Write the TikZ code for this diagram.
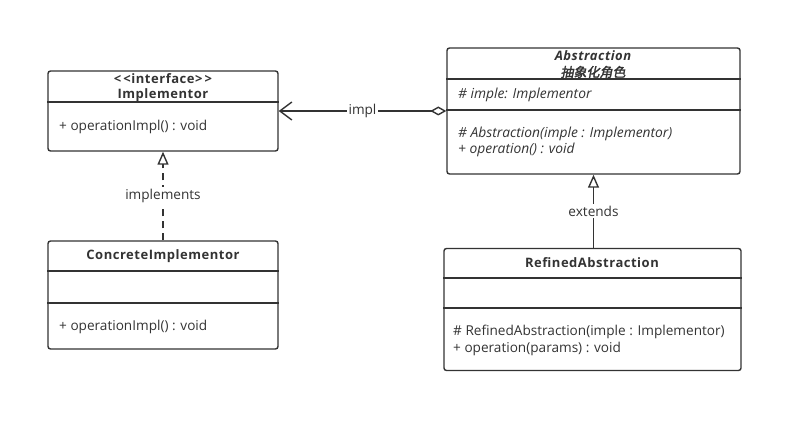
\documentclass[tikz,border=0pt]{standalone}
\usepackage{fontspec}
\setmainfont{Open Sans}
\newfontfamily\cjk[FakeSlant=0.2,FakeBold=2]{Noto Sans CJK SC}
\usepackage{tikz}
\usetikzlibrary{arrows.meta,positioning}
\definecolor{umlgray}{HTML}{333333}

\begin{document}
\begin{tikzpicture}[
		x=1pt,y=-1pt,
		every node/.append style={text=umlgray,font=\fontsize{13.6}{15}\selectfont,inner sep=1pt},
		classbox/.style={draw=umlgray,line width=1.4pt,rounded corners=2.5pt,inner sep=0pt},
		divider/.style={draw=umlgray,line width=1.4pt},
		member/.style={anchor=west},
		title/.style={font=\fontsize{13}{15}\selectfont\bfseries\addfontfeature{LetterSpace=4}},
		lbl/.style={fill=white,inner sep=2pt}
	]
	\useasboundingbox (0,0) rectangle (803,433);
	\node[classbox,minimum width=230pt,minimum height=80pt] (impl) at (163,111) {};
	\draw[divider] (impl.west |- 0,102) -- (impl.east |- 0,102);
	\node[title] (implA) at (163,79) {{<}\,{<}interface{>}\,{>}};
	\node[title] (implB) at (163,95) {Implementor};
	\node[member] (implM) at (58,127) {+ operationImpl() : void};

	\node[classbox,minimum width=230pt,minimum height=108pt] (concrete) at (163,295) {};
	\draw[divider] (concrete.west |- 0,271) -- (concrete.east |- 0,271);
	\draw[divider] (concrete.west |- 0,303) -- (concrete.east |- 0,303);
	\node[title] (concreteT) at (163,256) {ConcreteImplementor};
	\node[member] (concreteM) at (58,327) {+ operationImpl() : void};

	\node[classbox,minimum width=293pt,minimum height=126pt] (abstr) at (593.5,111) {};
	\draw[divider] (abstr.west |- 0,79) -- (abstr.east |- 0,79);
	\draw[divider] (abstr.west |- 0,110) -- (abstr.east |- 0,110);
	\node[title,font=\fontsize{13}{15}\selectfont\bfseries\itshape\addfontfeature{LetterSpace=4}] (abstrA) at (593,56) {Abstraction};
	\node (abstrB) at (593,72) {\cjk\fontsize{13}{15}\selectfont 抽象化角色};
	\node[member,font=\fontsize{13.8}{15}\selectfont\itshape] (abstrF) at (457,95) {\# imple: Implementor};
	\node[member,font=\fontsize{13.8}{15}\selectfont\itshape] (abstrM1) at (457,134) {\# Abstraction(imple : Implementor)};
	\node[member,font=\fontsize{13.8}{15}\selectfont\itshape] (abstrM2) at (457,150) {+ operation() : void};

	\node[classbox,minimum width=297pt,minimum height=122pt] (refined) at (592.5,309.5) {};
	\draw[divider] (refined.west |- 0,278) -- (refined.east |- 0,278);
	\draw[divider] (refined.west |- 0,308) -- (refined.east |- 0,308);
	\node[title] (refinedT) at (592,263) {RefinedAbstraction};
	\node[member] (refinedM1) at (452,332) {\# RefinedAbstraction(imple : Implementor)};
	\node[member] (refinedM2) at (452,349) {+ operation(params) : void};

	\draw[umlgray,line width=1.4pt,{Straight Barb[length=12pt,width=18pt]}-{Diamond[open,length=16pt,width=9pt]}] (impl.east |- 0,111) -- node[lbl] (implLbl) {impl} (abstr.west |- 0,111);
	\draw[umlgray,line width=1.4pt,dash pattern=on 7pt off 5pt,-{Triangle[open,length=13pt,width=11pt]}] (concrete.north) -- node[lbl] (implementsLbl) {implements} (impl.south);
	\draw[umlgray,line width=1.4pt,-{Triangle[open,length=13pt,width=11pt]}] (refined.north -| abstr.south) -- node[lbl] (extendsLbl) {extends} (abstr.south);
\end{tikzpicture}
\end{document}
